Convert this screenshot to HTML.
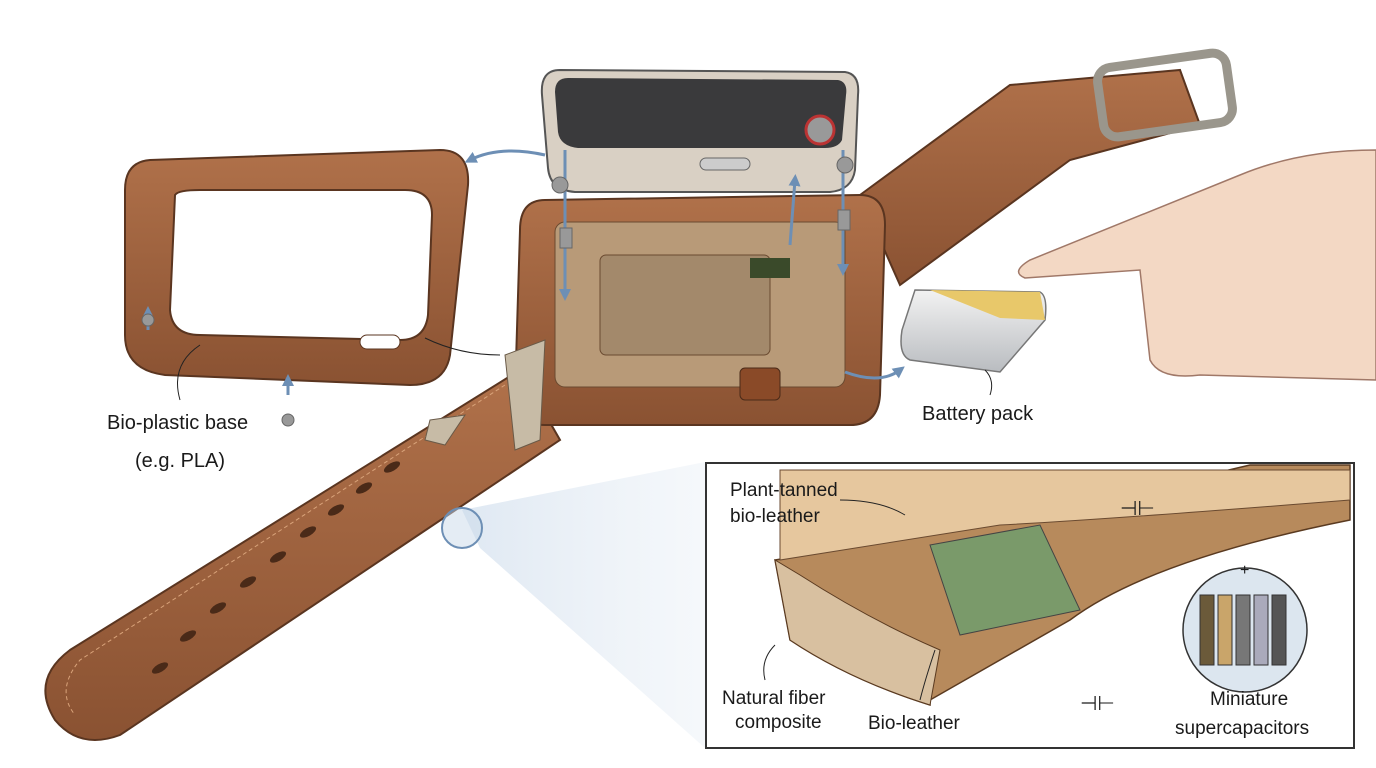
<!DOCTYPE html>
<html><head><meta charset="utf-8"><style>
html,body{margin:0;padding:0;background:#fff;}
svg{display:block}
text{font-family:"Liberation Sans",sans-serif;fill:#1a1a1a}
</style></head><body>
<svg width="1376" height="768" viewBox="0 0 1376 768" xmlns="http://www.w3.org/2000/svg">
<defs>
<linearGradient id="br" x1="0" y1="0" x2="0" y2="1"><stop offset="0" stop-color="#b0714a"/><stop offset="1" stop-color="#8a5232"/></linearGradient>
<linearGradient id="sil" x1="0" y1="0" x2="0" y2="1"><stop offset="0" stop-color="#f2f2f2"/><stop offset="1" stop-color="#b9bcc0"/></linearGradient>
<linearGradient id="beam" x1="0" y1="0" x2="1" y2="0"><stop offset="0" stop-color="#c9d9ea" stop-opacity="0.6"/><stop offset="1" stop-color="#dfe8f2" stop-opacity="0.3"/></linearGradient>
<marker id="ah" viewBox="0 0 10 10" refX="5" refY="5" markerWidth="4" markerHeight="4" orient="auto"><path d="M0,0 L10,5 L0,10 Z" fill="#6d8fb5"/></marker>
</defs>
<rect width="1376" height="768" fill="#fff"/>
<polygon points="462,510 705,462 705,748 480,548" fill="url(#beam)"/>
<!-- lower strap -->
<path d="M520,370 L70,650 Q30,680 55,720 Q80,750 120,735 L560,440 Z" fill="url(#br)" stroke="#5a3520" stroke-width="2"/>
<path d="M505,385 L80,660 Q55,690 75,715" fill="none" stroke="#d9a37a" stroke-dasharray="4 3"/>
<g fill="#4a2a18">
<ellipse cx="160" cy="668" rx="9" ry="4" transform="rotate(-30 160 668)"/>
<ellipse cx="188" cy="636" rx="9" ry="4" transform="rotate(-30 188 636)"/>
<ellipse cx="218" cy="608" rx="9" ry="4" transform="rotate(-30 218 608)"/>
<ellipse cx="248" cy="582" rx="9" ry="4" transform="rotate(-30 248 582)"/>
<ellipse cx="278" cy="557" rx="9" ry="4" transform="rotate(-30 278 557)"/>
<ellipse cx="308" cy="532" rx="9" ry="4" transform="rotate(-30 308 532)"/>
<ellipse cx="336" cy="510" rx="9" ry="4" transform="rotate(-30 336 510)"/>
<ellipse cx="364" cy="488" rx="9" ry="4" transform="rotate(-30 364 488)"/>
<ellipse cx="392" cy="467" rx="9" ry="4" transform="rotate(-30 392 467)"/>
</g>
<circle cx="462" cy="528" r="20" fill="#c9d9ea" fill-opacity="0.5" stroke="#6d8fb5" stroke-width="2"/>
<!-- upper strap -->
<path d="M860,195 L1010,85 L1180,70 L1200,125 L1070,160 L900,285 Z" fill="url(#br)" stroke="#5a3520" stroke-width="2"/>
<rect x="1100" y="60" width="130" height="70" rx="14" fill="none" stroke="#9a968c" stroke-width="9" transform="rotate(-8 1165 95)"/>
<!-- bezel -->
<path d="M150,160 L440,150 Q470,150 468,185 L450,355 Q445,385 410,385 L165,375 Q125,370 125,335 L125,190 Q125,162 150,160 Z M175,195 L170,310 Q172,335 200,335 L400,340 Q425,340 428,315 L432,215 Q432,190 405,190 L200,190 Q178,190 175,195 Z" fill="url(#br)" fill-rule="evenodd" stroke="#5a3520" stroke-width="2"/>
<rect x="360" y="335" width="40" height="14" rx="7" fill="#fff" stroke="#5a3520"/>
<!-- watch case -->
<path d="M545,200 L860,195 Q885,195 885,225 L880,395 Q878,425 850,425 L545,425 Q515,425 515,395 L520,230 Q520,200 545,200 Z" fill="url(#br)" stroke="#5a3520" stroke-width="2"/>
<rect x="555" y="222" width="290" height="165" rx="10" fill="#b89a78" stroke="#6a4a30"/>
<rect x="600" y="255" width="170" height="100" rx="6" fill="#a3896b" stroke="#6a4a30"/>
<rect x="750" y="258" width="40" height="20" fill="#3a4a2a"/>
<rect x="740" y="368" width="40" height="32" rx="5" fill="#8a4a28" stroke="#4a2a18"/>
<path d="M505,355 L545,340 L540,440 L515,450 Z" fill="#c7bba6" stroke="#6a5a48"/>
<path d="M430,420 L465,415 L445,445 L425,440 Z" fill="#c7bba6" stroke="#6a5a48"/>
<!-- screen -->
<path d="M560,70 L845,72 Q860,74 858,95 L855,170 Q852,190 830,192 L575,192 Q550,190 548,168 L542,95 Q540,70 560,70 Z" fill="#d9d0c4" stroke="#555" stroke-width="2"/>
<path d="M568,78 L838,80 Q848,82 846,95 L842,140 Q838,148 825,148 L578,148 Q560,146 558,132 L555,92 Q555,78 568,78 Z" fill="#3a3a3c"/>
<circle cx="820" cy="130" r="14" fill="#999" stroke="#b33" stroke-width="3"/>
<rect x="700" y="158" width="50" height="12" rx="6" fill="#ccc" stroke="#666"/>
<!-- battery -->
<path d="M915,290 L1040,292 Q1048,296 1045,320 L1000,372 L910,360 Q898,355 902,330 Z" fill="url(#sil)" stroke="#777" stroke-width="1.5"/>
<path d="M930,290 L1040,292 L1045,320 L1000,318 Z" fill="#e8c86a"/>
<!-- hand -->
<path d="M1376,150 Q1300,150 1240,175 L1030,260 Q1010,272 1025,278 L1140,270 L1150,360 Q1160,380 1200,375 L1376,380 Z" fill="#f3d8c4" stroke="#a07868" stroke-width="1.5"/>
<!-- arrows -->
<g fill="none" stroke="#6d8fb5" stroke-width="3" marker-end="url(#ah)">
<path d="M545,155 Q500,145 470,160"/>
<path d="M790,245 L795,180"/>
<path d="M845,372 Q880,385 900,370"/>
<path d="M565,150 L565,295"/><path d="M843,150 L843,270"/>
<path d="M148,330 L148,312"/><path d="M288,395 L288,380"/>
<path d="M1135,505 L1100,520"/><path d="M1040,680 L1075,695"/><path d="M1115,695 Q1150,690 1165,665"/>
</g>
<g fill="#999" stroke="#666"><circle cx="560" cy="185" r="8"/><circle cx="845" cy="165" r="8"/><rect x="560" y="228" width="12" height="20"/><rect x="838" y="210" width="12" height="20"/><circle cx="148" cy="320" r="6"/><circle cx="288" cy="420" r="6"/></g>
<path d="M200,345 Q170,365 180,400" fill="none" stroke="#222"/>
<path d="M425,338 Q460,355 500,355" fill="none" stroke="#222"/>
<path d="M985,370 Q995,380 990,395" fill="none" stroke="#222"/>
<text x="107" y="429" font-size="20">Bio-plastic base</text>
<text x="135" y="467" font-size="20">(e.g. PLA)</text>
<text x="922" y="420" font-size="20">Battery pack</text>
<!-- inset -->
<rect x="706" y="463" width="648" height="285" fill="#fff" stroke="#333" stroke-width="2"/>
<path d="M775,560 Q1000,525 1250,465 L1350,465 L1350,520 Q1150,560 1070,620 Q1000,660 930,700 L930,705 Q850,680 790,640 Z" fill="#b78a5c" stroke="#5a3a20" stroke-width="1.5"/>
<path d="M780,470 L1350,470 L1350,500 Q1100,520 1000,525 L780,560 Z" fill="#e6c79e" stroke="#6a4a30"/>
<path d="M775,560 L790,640 Q850,680 930,705 L940,650 Q870,620 800,575 Z" fill="#d8c0a0" stroke="#5a3a20"/>
<path d="M930,545 L1040,525 L1080,610 L960,635 Z" fill="#7a9a6a" stroke="#444"/>
<circle cx="1245" cy="630" r="62" fill="#dce6ef" stroke="#333" stroke-width="1.5"/>
<g stroke="#333"><rect x="1200" y="595" width="14" height="70" fill="#6b5a3a"/><rect x="1218" y="595" width="14" height="70" fill="#c9a56a"/><rect x="1236" y="595" width="14" height="70" fill="#777"/><rect x="1254" y="595" width="14" height="70" fill="#aab"/><rect x="1272" y="595" width="14" height="70" fill="#555"/></g>
<text x="1240" y="575" font-size="16">+</text>
<g fill="none" stroke="#222"><path d="M840,500 Q880,500 905,515"/><path d="M775,645 Q760,660 765,680"/><path d="M935,650 Q925,680 920,700"/></g>
<text x="1120" y="515" font-size="20">⊣⊢</text><text x="1080" y="710" font-size="20">⊣⊢</text>
<text x="730" y="496" font-size="19">Plant-tanned</text>
<text x="730" y="522" font-size="19">bio-leather</text>
<text x="722" y="704" font-size="19">Natural fiber</text>
<text x="735" y="728" font-size="19">composite</text>
<text x="868" y="729" font-size="19">Bio-leather</text>
<text x="1210" y="705" font-size="19">Miniature</text>
<text x="1175" y="734" font-size="19">supercapacitors</text>
</svg>
</body></html>
